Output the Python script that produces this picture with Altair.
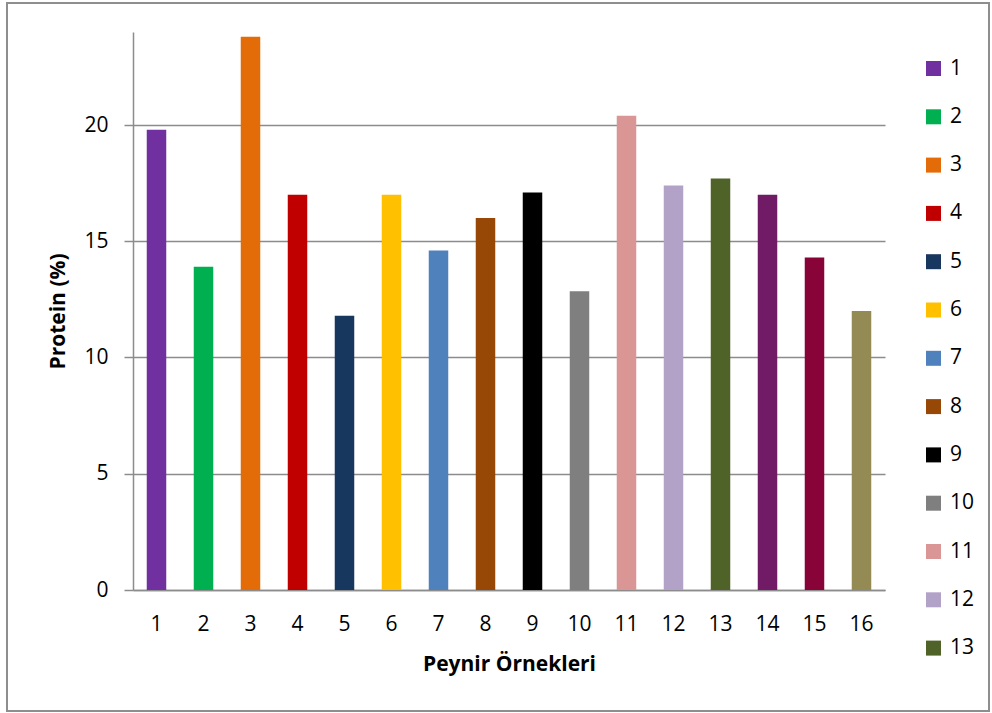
import altair as alt
import pandas as pd

# Cheese samples and their protein content (%)
samples = [str(i) for i in range(1, 17)]
protein = [19.8, 13.9, 23.8, 17.0, 11.8, 17.0, 14.6, 16.0,
           17.1, 12.85, 20.4, 17.4, 17.7, 17.0, 14.3, 12.0]
bar_colors = ["#7030A0", "#00B050", "#E36C09", "#C00000", "#17375E", "#FFC000",
              "#4F81BD", "#974806", "#000000", "#7F7F7F", "#D99694", "#B3A2C7",
              "#4F6228", "#711A66", "#880338", "#948A54"]
y_ticks = [0, 5, 10, 15, 20]
legend_items = samples[:13]

df = pd.DataFrame({"sample": samples, "protein": protein})

FONT = "Open Sans"
GRID = "#8C8C8C"
FS = 21
W, H = 752, 558

bars = alt.Chart(df).mark_bar().encode(
    x=alt.X(
        "sample:N",
        sort=samples,
        scale=alt.Scale(paddingInner=0.585, paddingOuter=0.2925),
        axis=alt.Axis(
            title="Peynir Örnekleri",
            labelAngle=0,
            ticks=False,
            domainColor=GRID,
            domainWidth=1.5,
            labelFontSize=FS,
            labelPadding=23,
            labelColor="#000000",
            titleFontSize=FS,
            titleFontWeight="bold",
            titlePadding=19,
            titleColor="#000000",
            grid=False,
        ),
    ),
    y=alt.Y(
        "protein:Q",
        scale=alt.Scale(domain=[0, 24], nice=False),
        axis=alt.Axis(
            values=y_ticks,
            title="Protein (%)",
            grid=True,
            gridColor=GRID,
            gridWidth=1.5,
            domainColor=GRID,
            domainWidth=1.5,
            tickColor=GRID,
            tickSize=9,
            tickWidth=1.5,
            labelFontSize=FS,
            labelPadding=16,
            labelColor="#000000",
            titleFontSize=FS,
            titleFontWeight="bold",
            titlePadding=15,
            titleColor="#000000",
        ),
    ),
    color=alt.Color(
        "sample:N",
        sort=samples,
        scale=alt.Scale(domain=samples, range=bar_colors),
        legend=alt.Legend(
            values=legend_items,
            title=None,
            orient="none",
            legendX=790,
            legendY=26,
            symbolType="square",
            symbolSize=225,
            symbolStrokeWidth=0,
            labelFontSize=FS,
            labelColor="#000000",
            labelOffset=6,
            rowPadding=26.3,
        ),
    ),
)

# thin grey border around the whole chart
frame = alt.Chart(alt.Data(values=[{"f": 0}])).mark_rect(
    fill="transparent", stroke="#8E8E8E", strokeWidth=2
).encode(
    x=alt.value(-126), x2=alt.value(856),
    y=alt.value(-29), y2=alt.value(679),
)

chart = alt.layer(frame, bars).properties(
    width=W, height=H,
    autosize=alt.AutoSizeParams(type="none"),
    padding={"left": 133, "top": 32, "right": 107, "bottom": 123},
).configure(
    font=FONT,
    background="#FFFFFF",
).configure_view(stroke=None)

chart.save("out.html", embed_options={"renderer": "svg", "actions": False})
